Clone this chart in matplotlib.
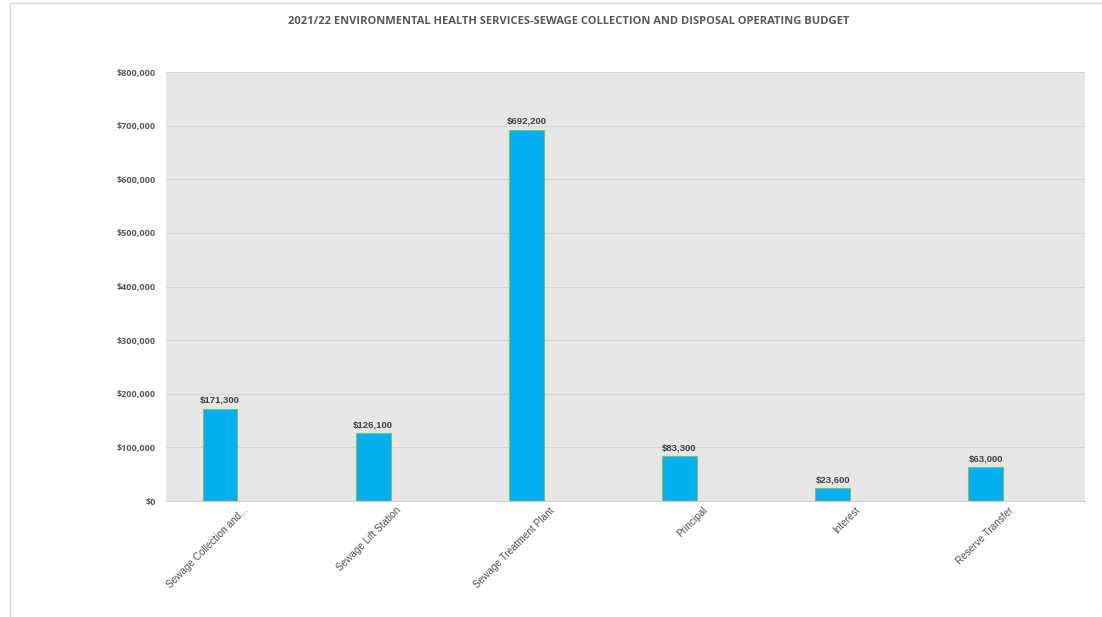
import matplotlib
matplotlib.use("Agg")
import matplotlib.pyplot as plt
from matplotlib.patches import Rectangle
from matplotlib.ticker import FuncFormatter
import numpy as np

# -----------------------------
# Data
# -----------------------------

categories = [
    "Sewage Collection and...",
    "Sewage Lift Station",
    "Sewage Treatment Plant",
    "Principal",
    "Interest",
    "Reserve Transfer",
]
budget = [171300, 126100, 692200, 83300, 23600, 63000]
y_ticks = [0, 100000, 200000, 300000, 400000, 500000, 600000, 700000, 800000]

title = "2021/22 ENVIRONMENTAL HEALTH SERVICES-SEWAGE COLLECTION AND DISPOSAL OPERATING BUDGET"

# -----------------------------
# Figure
# -----------------------------

fig = plt.figure(figsize=(11.02, 6.17), dpi=100)
ax = fig.add_axes([0.1506, 0.188, 0.834, 0.6953])

# thin frame round the chart
fig.patches.append(Rectangle((10 / 1102, -0.01), 1.1, 1 - 3 / 617 + 0.01,
                             transform=fig.transFigure, fill=False,
                             edgecolor="#d9d9d9", linewidth=1.0))

x = np.arange(len(categories))
bars = ax.bar(x - 0.147, budget, width=0.228, color="#00b0f0",
              edgecolor="#8fbc5a", linewidth=0.8, zorder=3)

for rect, val in zip(bars, budget):
    ax.annotate(f"${val:,.0f}",
                (rect.get_x() + rect.get_width() / 2, rect.get_height()),
                xytext=(0, 3), textcoords="offset points",
                ha="center", va="bottom", fontsize=6.8, fontweight="bold",
                color="#404040", family="Liberation Sans")

ax.set_facecolor("#e7e6e6")
ax.set_xlim(-0.5, len(categories) - 0.5)
ax.set_ylim(0, 800000)
ax.set_yticks(y_ticks)
ax.yaxis.set_major_formatter(FuncFormatter(lambda v, p: f"${v:,.0f}"))
ax.grid(axis="y", color="#d4d4d4", linewidth=0.8, zorder=0)

ax.set_xticks(x)
ax.set_xticklabels(categories, rotation=45, ha="right", rotation_mode="anchor",
                   fontsize=7.2, color="#505050", family="Liberation Sans")
for lbl in ax.get_yticklabels():
    lbl.set_fontsize(6.5)
    lbl.set_fontweight("bold")
    lbl.set_color("#595959")
    lbl.set_family("Open Sans")

ax.tick_params(axis="both", length=0)
ax.tick_params(axis="y", pad=7)
ax.tick_params(axis="x", pad=3)
for side in ["top", "right", "left"]:
    ax.spines[side].set_visible(False)
ax.spines["bottom"].set_color("#d0d0d0")

fig.text(0.516, 1 - 21 / 617, title, ha="center", va="center",
         fontsize=8.0, fontweight="bold", color="#595959", family="Open Sans")

plt.savefig("out.png", dpi=100)
plt.close()
